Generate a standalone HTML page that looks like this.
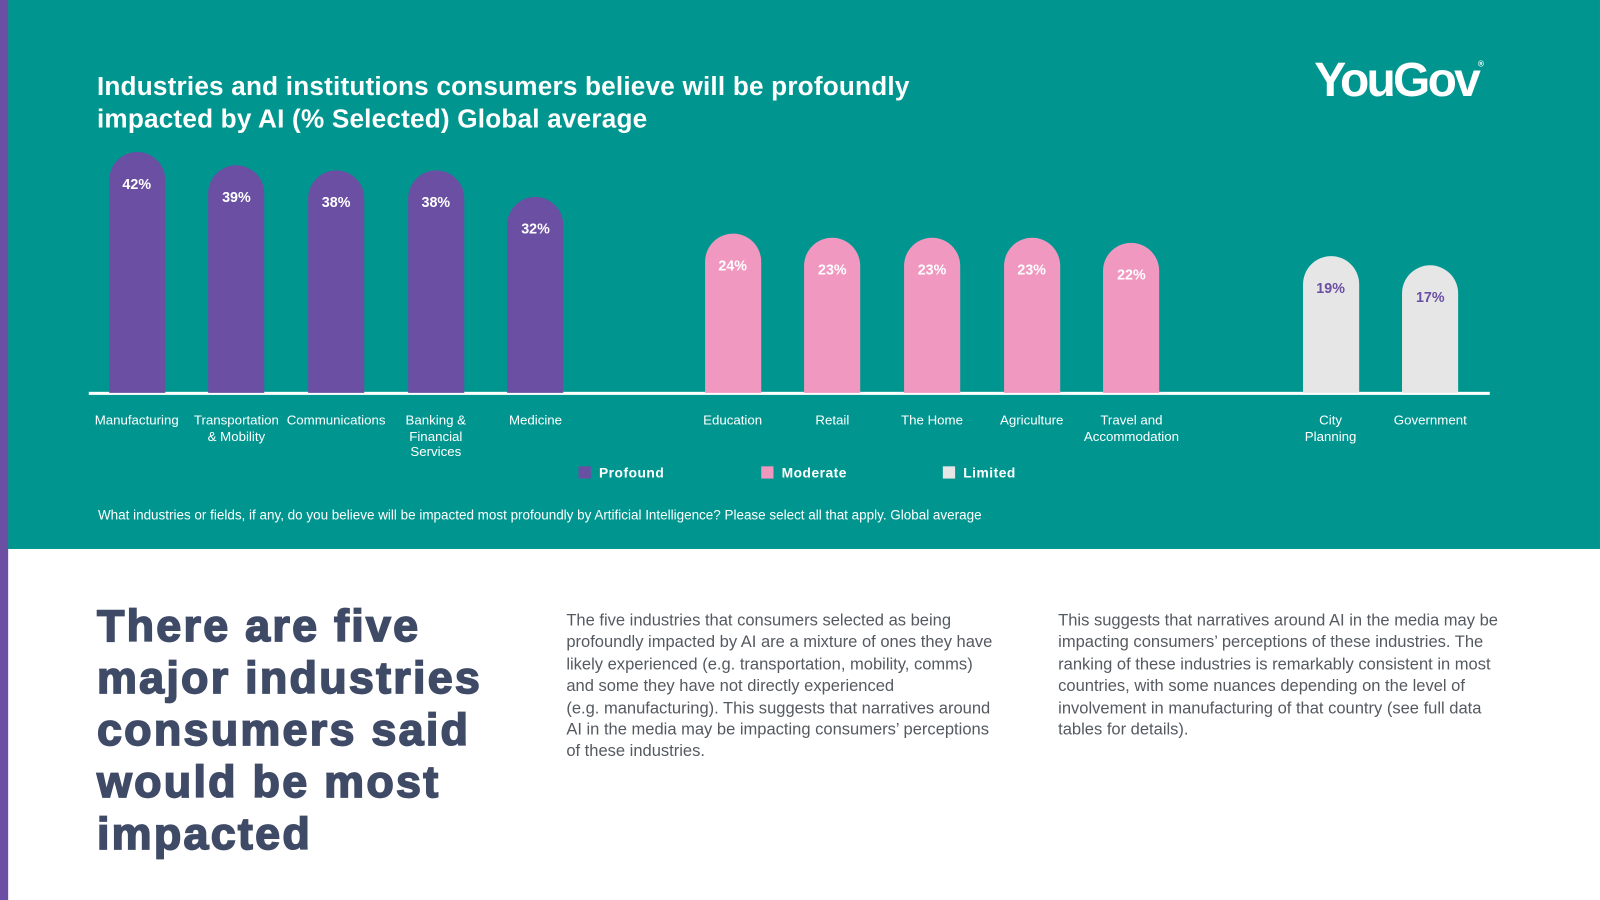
<!DOCTYPE html>
<html><head><meta charset="utf-8"><style>
html,body{margin:0;padding:0;width:1600px;height:900px;overflow:hidden;background:#fff;font-family:"Liberation Sans",Arial,sans-serif}
#wrap{position:absolute;left:0;top:0;width:1568px;height:882px;transform:scale(1.0204,1.0204);transform-origin:0 0}
.abs{position:absolute}
#teal{left:0;top:0;width:1568px;height:538px;background:#00968f}
#strip{left:0;top:0;width:8px;height:882px;background:#6a4fa3}
#title{left:95px;top:69px;color:#fff;font-size:25.6px;font-weight:bold;line-height:32px;letter-spacing:0.2px}
#logo{left:1288px;top:50px;color:#fff;font-size:47px;font-weight:bold;letter-spacing:-2.7px}
#logo sup{font-size:8px;letter-spacing:0;position:relative;top:-12px}
.cat{position:absolute;width:120px;text-align:center;color:#fff;font-size:13px;line-height:15.5px}
.lab{position:absolute;width:60px;text-align:center;font-size:14px;font-weight:bold}
.leg{position:absolute;top:456px;color:#fff;font-size:13.5px;font-weight:bold;letter-spacing:0.5px}
.leg i{display:inline-block;width:12px;height:12px;vertical-align:-1px;margin-right:8px}
#note{left:96px;top:497px;color:#fff;font-size:13.2px}
#big{left:95px;top:588px;color:#3e4a66;font-size:44px;font-weight:bold;line-height:51px;-webkit-text-stroke:1.6px #3e4a66;letter-spacing:2.2px}
.para{color:#555a60;font-size:16.2px;line-height:21.4px}
</style></head><body>
<div id="wrap">
<div id="teal" class="abs"></div>
<div id="strip" class="abs"></div>
<div id="title" class="abs">Industries and institutions consumers believe will be profoundly<br>impacted by AI (% Selected) Global average</div>
<div id="logo" class="abs">YouGov<sup>®</sup></div>
<div id="bars" class="abs" style="left:0;top:0;width:1568px;height:538px"></div>
<div class="leg" style="left:567px"><i style="background:#6a4fa3"></i>Profound</div>
<div class="leg" style="left:746px"><i style="background:#f198c1"></i>Moderate</div>
<div class="leg" style="left:924px"><i style="background:#e6e6e6"></i>Limited</div>
<div id="note" class="abs">What industries or fields, if any, do you believe will be impacted most profoundly by Artificial Intelligence? Please select all that apply. Global average</div>
<div id="big" class="abs">There are five<br>major industries<br>consumers said<br>would be most<br>impacted</div>
<div class="abs para" style="left:555px;top:598px;width:430px">The five industries that consumers selected as being<br>profoundly impacted by AI are a mixture of ones they have likely experienced (e.g. transportation, mobility, comms)<br>and some they have not directly experienced<br>(e.g. manufacturing). This suggests that narratives around AI in the media may be impacting consumers’ perceptions of these industries.</div>
<div class="abs para" style="left:1037px;top:598px;width:445px">This suggests that narratives around AI in the media may be impacting consumers’ perceptions of these industries. The ranking of these industries is remarkably consistent in most countries, with some nuances depending on the level of involvement in manufacturing of that country (see full data tables for details).</div>
</div>
<script>
const categories=["Manufacturing","Transportation<br>& Mobility","Communications","Banking &<br>Financial<br>Services","Medicine","Education","Retail","The Home","Agriculture","Travel and<br>Accommodation","City<br>Planning","Government"];
const values=[42,39,38,38,32,24,23,23,23,22,19,17];
const groups=["profound","profound","profound","profound","profound","moderate","moderate","moderate","moderate","moderate","limited","limited"];
const colors={profound:"#6a4fa3",moderate:"#f198c1",limited:"#e6e6e6"};
const labelColors={profound:"#fff",moderate:"#fff",limited:"#6a4fa3"};
const baseY=385, barW=55;
function yScale(v){return 49.5+4.44*v;}
function xPos(i){const g=i<5?0:(i<10?1:2);const start=[134,718,1304][g];const idx=i<5?i:(i<10?i-5:i-10);return start+idx*97.7;}
const host=document.getElementById('bars');
const axis=document.createElement('div');


axis.style.cssText='position:absolute;left:87px;top:384px;width:1373px;height:3px;background:#fff';
host.appendChild(axis);
values.forEach((v,i)=>{
  const cx=xPos(i), h=yScale(v), g=groups[i];
  const b=document.createElement('div');
  
  
  b.style.cssText=`position:absolute;left:${cx-barW/2}px;top:${baseY-h}px;width:${barW}px;height:${h}px;background:${colors[g]};border-radius:${barW/2}px ${barW/2}px 0 0`;
  host.appendChild(b);
  const l=document.createElement('div');
  l.className='lab';
  
  
  l.style.left=(cx-30)+'px';l.style.top=(baseY-h+23)+'px';l.style.color=labelColors[g];
  l.textContent=v+'%';
  host.appendChild(l);
  const c=document.createElement('div');
  c.className='cat';
  
  
  c.style.left=(cx-60)+'px';c.style.top='404px';
  c.innerHTML=categories[i];
  host.appendChild(c);
});
</script>
</body></html>
